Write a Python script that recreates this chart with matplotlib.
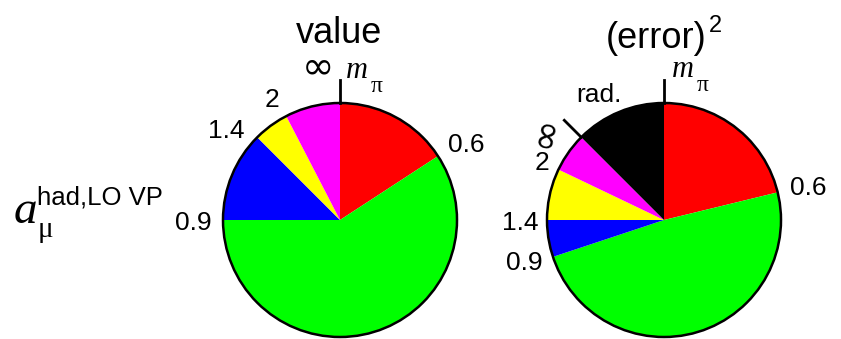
import numpy as np
import matplotlib.pyplot as plt
from matplotlib.patches import Circle

# share of a_mu (value) and of its squared error per energy interval,
# clockwise from m_pi: m_pi-0.6, 0.6-0.9, 0.9-1.4, 1.4-2, 2-inf (GeV), radiative
value_shares = [15.8, 59.2, 12.5, 4.9, 7.6]
error_shares = [21.2, 48.7, 5.1, 7.1, 5.4, 12.5]
value_colors = ['#ff0000', '#00ff00', '#0000ff', '#ffff00', '#ff00ff']
error_colors = value_colors + ['#000000']

W, H = 841, 339
SANS = 'Liberation Sans'
SERIF = 'Liberation Serif'

fig = plt.figure(figsize=(W / 100, H / 100), dpi=100)
ax = fig.add_axes([0, 0, 1, 1])


def draw_pie(shares, colors, cx, cy, r):
    ax.pie(shares, colors=colors, center=(cx, H - cy), radius=r,
           startangle=90, counterclock=False,
           wedgeprops=dict(linewidth=0))
    ax.add_patch(Circle((cx, H - cy), r, fill=False, lw=1.8, ec='black', zorder=5))
    # tick at the start (m_pi)
    ax.plot([cx, cx], [H - cy + r, H - cy + r + 23], color='black', lw=2)


def boundary_tick(shares, upto, cx, cy, r, length=24):
    theta = np.deg2rad(360 * sum(shares[:upto]) / sum(shares))
    rr = np.array([r, r + length])
    ax.plot(cx + rr * np.sin(theta), H - cy + rr * np.cos(theta), color='black', lw=2)


def label(x, y, s, size=19, **kw):
    kw.setdefault('family', SANS)
    ax.text(x, H - y, s, fontsize=size, ha='center', va='baseline', **kw)


def m_pi(x, y):
    ax.text(x, H - y, 'm', fontsize=22, family=SERIF, style='italic', ha='left', va='baseline')
    ax.text(x + 25, H - y - 14, 'π', fontsize=17, family=SERIF, ha='left', va='baseline')


# left pie: value
cxl, cyl, r = 340, 220, 117
draw_pie(value_shares, value_colors, cxl, cyl, r)
label(339, 43, 'value', size=26)
label(318, 78, '∞', size=28, family='DejaVu Sans')
m_pi(346, 78)
label(466, 152, '0.6')
label(193, 230, '0.9')
label(226, 138, '1.4')
label(272, 107, '2')

# right pie: (error)^2
cxr, cyr = 664, 220
draw_pie(error_shares, error_colors, cxr, cyr, r)
boundary_tick(error_shares, 5, cxr, cyr, r)
label(656, 48, '(error)', size=26)
label(715, 32, '2', size=17)
m_pi(672, 77)
label(808, 195, '0.6')
label(524, 270, '0.9')
label(520, 230, '1.4')
label(542, 170, '2')
label(599, 102, 'rad.')
ax.text(545, H - 132, '∞', fontsize=28, family='DejaVu Sans', rotation=78,
        ha='center', va='center', rotation_mode='anchor')

# y-axis style quantity label
ax.text(14, H - 223, 'a', fontsize=34, family=SERIF, style='italic', ha='left', va='baseline')
ax.text(37, H - 205, 'had,LO VP', fontsize=18.5, family=SANS, ha='left', va='baseline')
ax.text(38, H - 237, 'μ', fontsize=21, family=SERIF, ha='left', va='baseline')

ax.set_xlim(0, W)
ax.set_ylim(0, H)
ax.set_aspect('equal')
ax.axis('off')

plt.savefig('out.png', dpi=100)
